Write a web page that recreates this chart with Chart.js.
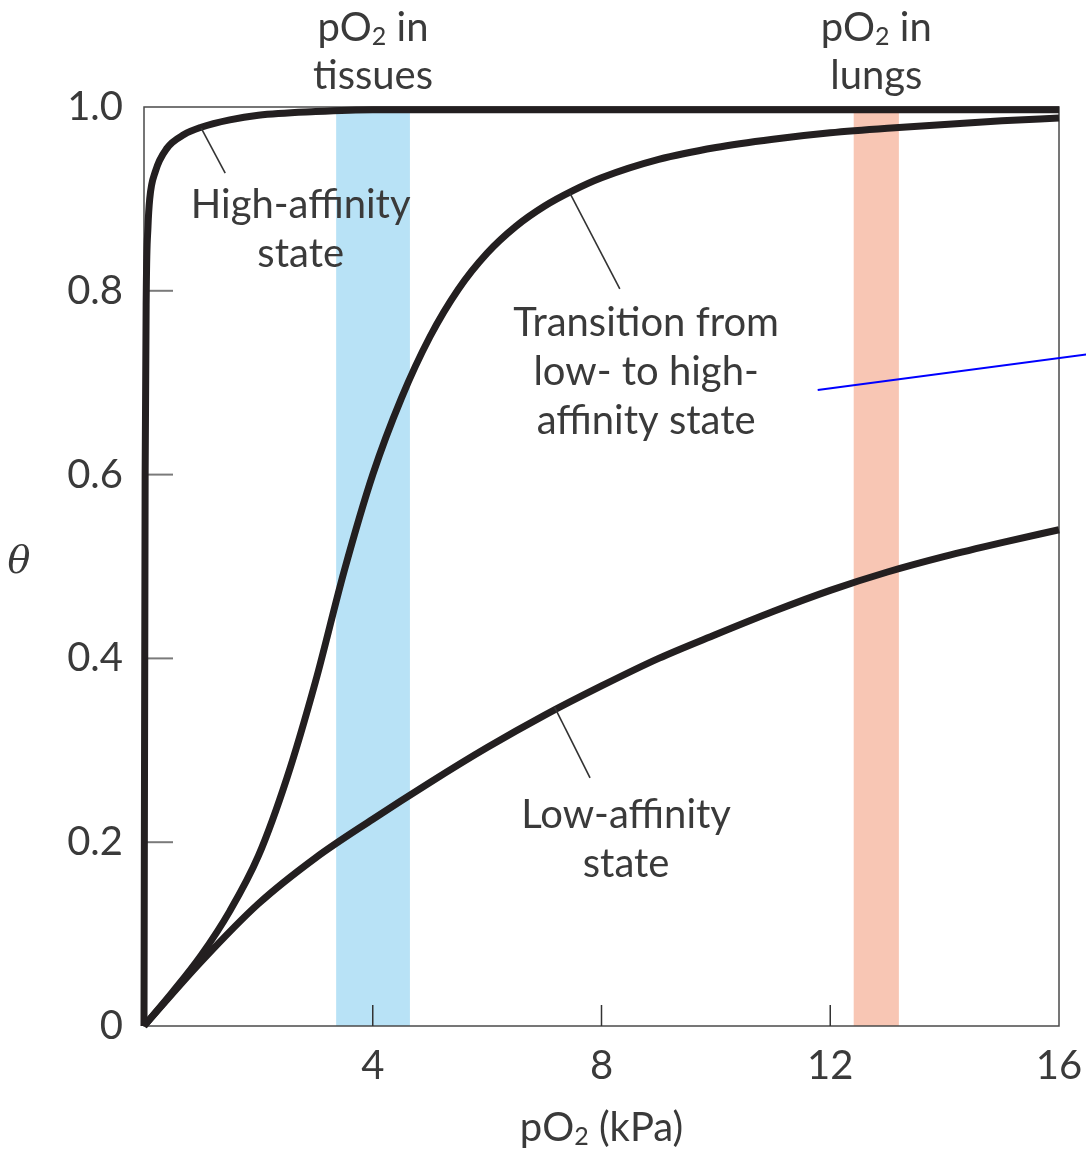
<!DOCTYPE html>
<html>
<head>
<meta charset="utf-8">
<script src="https://cdn.jsdelivr.net/npm/chart.js@4.4.1/dist/chart.umd.min.js"></script>
<style>
  html, body { margin: 0; padding: 0; background: #fff; }
  #wrap { width: 1086px; height: 1151px; position: relative; }
</style>
</head>
<body>
<div id="wrap"><canvas id="chart"></canvas></div>
<script>
// pO2 (kPa) and fractional saturation theta
const highX = [0, 0.02, 0.04, 0.07, 0.1, 0.2, 0.4, 0.7, 1, 1.5, 2, 3, 4, 6, 8, 12, 16];
const highY = [0, 0.6, 0.8, 0.87, 0.9, 0.93, 0.955, 0.97, 0.978, 0.986, 0.991, 0.995, 0.997, 0.997, 0.997, 0.997, 0.997];

const transX = [0, 0.5, 1, 1.5, 2, 2.5, 3, 3.5, 4, 4.5, 5, 5.5, 6, 6.5, 7, 7.5, 8, 9, 10, 11, 12, 13, 14, 15, 16];
const transY = [0, 0.037, 0.077, 0.125, 0.185, 0.27, 0.375, 0.495, 0.6, 0.683, 0.75, 0.802, 0.841, 0.87, 0.892, 0.909, 0.923, 0.943, 0.956, 0.965, 0.972, 0.977, 0.981, 0.985, 0.988];

const lowX = [0, 1, 2, 3, 4, 5, 6, 7, 8, 9, 10, 11, 12, 13, 14, 15, 16];
const lowY = [0, 0.07, 0.133, 0.183, 0.225, 0.265, 0.303, 0.338, 0.37, 0.4, 0.426, 0.451, 0.474, 0.494, 0.511, 0.526, 0.54];

// shaded ranges of pO2 (kPa)
const tissueBand = [3.36, 4.65];
const lungBand = [12.41, 13.2];

const xTicks = [4, 8, 12, 16];
const yTicks = [0, 0.2, 0.4, 0.6, 0.8, 1.0];

const FONT = "Lato, 'Open Sans', sans-serif";
const TEXT = '#3a3a3a';
const INK = '#231f20';

const toPts = (xs, ys) => xs.map((x, i) => ({ x: x, y: ys[i] }));

// draw a string made of [text, isSubscript] pieces, centred on x
function drawRich(ctx, parts, x, y, size) {
  const sub = Math.round(size * 0.62);
  let w = 0;
  parts.forEach(p => {
    ctx.font = (p[1] ? sub : size) + 'px ' + FONT;
    w += ctx.measureText(p[0]).width;
  });
  let cx = x - w / 2;
  ctx.textAlign = 'left';
  ctx.textBaseline = 'middle';
  parts.forEach(p => {
    ctx.font = (p[1] ? sub : size) + 'px ' + FONT;
    ctx.fillText(p[0], cx, p[1] ? y + size * 0.22 : y);
    cx += ctx.measureText(p[0]).width;
  });
}

const figurePlugin = {
  id: 'figure',
  beforeDatasetsDraw(chart) {
    const { ctx, chartArea: a, scales: { x, y } } = chart;
    ctx.save();
    ctx.fillStyle = '#b8e2f6';
    ctx.fillRect(x.getPixelForValue(tissueBand[0]), a.top, x.getPixelForValue(tissueBand[1]) - x.getPixelForValue(tissueBand[0]), a.bottom - a.top);
    ctx.fillStyle = '#f8c6b4';
    ctx.fillRect(x.getPixelForValue(lungBand[0]), a.top, x.getPixelForValue(lungBand[1]) - x.getPixelForValue(lungBand[0]), a.bottom - a.top);

    // frame
    ctx.strokeStyle = '#4a4a4a';
    ctx.lineWidth = 1.5;
    ctx.strokeRect(a.left, a.top, a.right - a.left, a.bottom - a.top);

    // inward ticks
    ctx.strokeStyle = '#7a7a7a';
    ctx.lineWidth = 2;
    [0.2, 0.4, 0.6, 0.8].forEach(v => {
      const py = y.getPixelForValue(v);
      ctx.beginPath();
      ctx.moveTo(a.left, py);
      ctx.lineTo(a.left + 29, py);
      ctx.stroke();
    });
    ctx.strokeStyle = '#333';
    ctx.lineWidth = 1.5;
    [4, 8, 12].forEach(v => {
      const px = x.getPixelForValue(v);
      ctx.beginPath();
      ctx.moveTo(px, a.bottom);
      ctx.lineTo(px, a.bottom - 21);
      ctx.stroke();
    });
    ctx.restore();
  },
  afterDraw(chart) {
    const { ctx, chartArea: a, scales: { x, y } } = chart;
    ctx.save();
    ctx.fillStyle = TEXT;
    const S = 40;

    // labels over the bands
    const tx = x.getPixelForValue((tissueBand[0] + tissueBand[1]) / 2);
    const lx = x.getPixelForValue((lungBand[0] + lungBand[1]) / 2);
    drawRich(ctx, [['pO', false], ['2', true], [' in', false]], tx, 28, S);
    drawRich(ctx, [['tissues', false]], tx, 76, S);
    drawRich(ctx, [['pO', false], ['2', true], [' in', false]], lx, 28, S);
    drawRich(ctx, [['lungs', false]], lx, 76, S);

    // axis titles
    drawRich(ctx, [['pO', false], ['2', true], [' (kPa)', false]], (a.left + a.right) / 2, 1128, S);
    ctx.font = 'italic 38px "DejaVu Serif", "Liberation Serif", serif';
    ctx.textAlign = 'center';
    ctx.textBaseline = 'middle';
    ctx.fillText('\u03b8', 19, 563);

    // curve labels
    const notes = [
      { lines: ['High-affinity', 'state'], at: [2.74, 0.893], from: [1.0, 0.977], to: [1.42, 0.928] },
      { lines: ['Transition from', 'low- to high-', 'affinity state'], at: [8.78, 0.765], from: [7.45, 0.906], to: [8.32, 0.802] },
      { lines: ['Low-affinity', 'state'], at: [8.43, 0.229], from: [7.18, 0.347], to: [7.8, 0.27] }
    ];
    notes.forEach(n => {
      const cx = x.getPixelForValue(n.at[0]);
      const cy = y.getPixelForValue(n.at[1]);
      n.lines.forEach((t, i) => {
        ctx.font = S + 'px ' + FONT;
        ctx.textAlign = 'center';
        ctx.textBaseline = 'middle';
        ctx.fillText(t, cx, cy + i * 49);
      });
      ctx.strokeStyle = '#333';
      ctx.lineWidth = 1.6;
      ctx.beginPath();
      ctx.moveTo(x.getPixelForValue(n.from[0]), y.getPixelForValue(n.from[1]));
      ctx.lineTo(x.getPixelForValue(n.to[0]), y.getPixelForValue(n.to[1]));
      ctx.stroke();
    });

    // stray blue pointer line
    ctx.strokeStyle = '#0000ff';
    ctx.lineWidth = 2;
    ctx.beginPath();
    ctx.moveTo(x.getPixelForValue(11.78), y.getPixelForValue(0.692));
    ctx.lineTo(x.getPixelForValue(16.5), y.getPixelForValue(0.731));
    ctx.stroke();
    ctx.restore();
  }
};

const curveStyle = {
  showLine: true,
  borderColor: INK,
  borderWidth: 7,
  pointRadius: 0,
  fill: false,
  cubicInterpolationMode: 'monotone',
  clip: 6
};

new Chart(document.getElementById('chart'), {
  type: 'scatter',
  data: {
    datasets: [
      Object.assign({ label: 'High-affinity state', data: toPts(highX, highY) }, curveStyle),
      Object.assign({ label: 'Transition from low- to high-affinity state', data: toPts(transX, transY) }, curveStyle),
      Object.assign({ label: 'Low-affinity state', data: toPts(lowX, lowY) }, curveStyle)
    ]
  },
  options: {
    responsive: true,
    maintainAspectRatio: false,
    animation: false,
    layout: { padding: { top: 107, right: 27, left: 0, bottom: 0 } },
    plugins: { legend: { display: false }, tooltip: { enabled: false } },
    scales: {
      x: {
        type: 'linear',
        min: 0,
        max: 16,
        afterFit(s) { s.height = 125; s.paddingLeft = 0; s.paddingRight = 0; },
        afterBuildTicks(s) { s.ticks = xTicks.map(v => ({ value: v })); },
        grid: { display: false, drawTicks: false },
        border: { display: false },
        ticks: { color: TEXT, padding: 16, font: { family: FONT, size: 40 }, maxRotation: 0, autoSkip: false }
      },
      y: {
        type: 'linear',
        min: 0,
        max: 1,
        afterFit(s) { s.width = 144; s.paddingTop = 0; s.paddingBottom = 0; },
        afterBuildTicks(s) { s.ticks = yTicks.map(v => ({ value: v })); },
        grid: { display: false, drawTicks: false },
        border: { display: false },
        ticks: {
          color: TEXT,
          padding: 21,
          font: { family: FONT, size: 40 },
          callback: v => (v === 0 ? '0' : v.toFixed(1))
        }
      }
    }
  },
  plugins: [figurePlugin]
});
</script>
</body>
</html>
